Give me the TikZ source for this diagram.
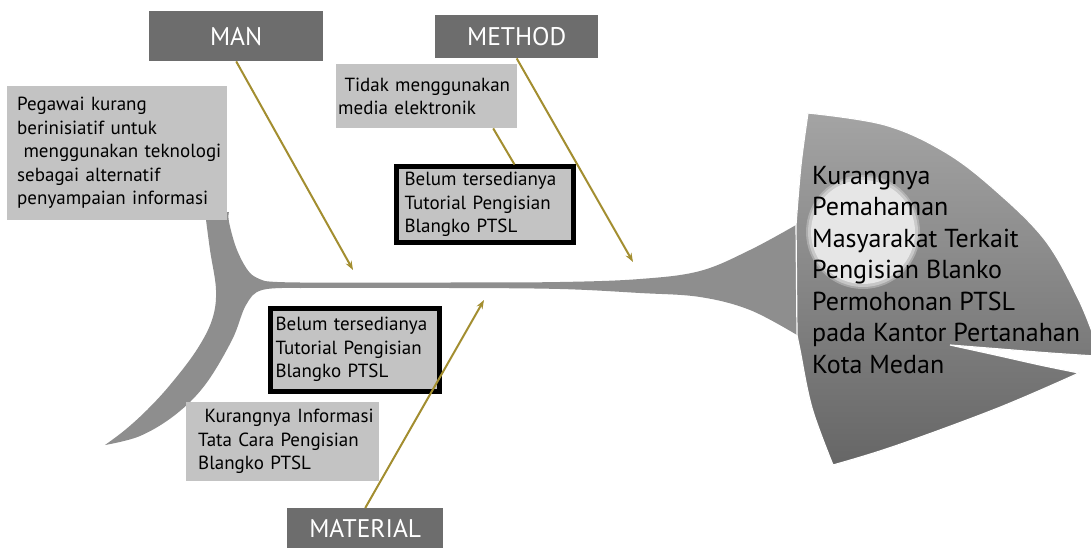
\documentclass[tikz,border=0pt]{standalone}
\usepackage{fontspec}
\setmainfont{PT Sans}
\usetikzlibrary{arrows.meta}
\definecolor{darkbox}{HTML}{6D6D6D}
\definecolor{lightbox}{HTML}{C3C3C3}
\definecolor{arrowc}{HTML}{A38E30}
\definecolor{fishgrey}{HTML}{8E8E8E}
\definecolor{headtop}{HTML}{A4A4A4}
\definecolor{headbot}{HTML}{666666}
\definecolor{eyec}{HTML}{E6E6E6}
\tikzset{
  catbox/.style={fill=darkbox, text=white, inner sep=0pt, anchor=north west,
    font=\fontsize{25.5}{30}\selectfont},
  causebox/.style={fill=lightbox, text=black, anchor=north west, align=left,
    inner ysep=0pt, font=\fontsize{19}{23.5}\selectfont},
  framedbox/.style={causebox, draw=black, line width=5pt},
  arrowline/.style={draw=arrowc, line width=2pt, -{Stealth[length=9pt,width=6.5pt]}},
  plainline/.style={draw=arrowc, line width=2pt},
  headtext/.style={anchor=west, align=left, inner sep=0pt, text=black,
    font=\fontsize{26}{31.5}\selectfont}
}
\begin{document}
\begin{tikzpicture}[x=1pt,y=-1pt]
\useasboundingbox (0,0) rectangle (1091,548);
\fill[white] (0,0) rectangle (1091,548);

% fish body: tail, spine, body and head
\fill[fishgrey]
  plot[smooth, tension=0.6] coordinates {(205,212) (210,250) (216,290) (212,320) (196,351) (170,385) (147,410) (125,430) (105,445)}
  -- plot[smooth, tension=0.6] coordinates {(105,445) (140,436) (175,415) (205,385) (232,340) (246,305) (262,290) (300,288)}
  -- plot[smooth, tension=0.6] coordinates {(300,288) (450,288) (560,289) (640,293) (700,297) (750,310) (797,335)}
  -- plot[smooth, tension=0.6] coordinates {(797,335) (800,350) (812,408) (833,465)}
  -- plot[smooth, tension=0.6] coordinates {(833,465) (895,446) (998,408) (1079,373)}
  -- plot[smooth, tension=0.6] coordinates {(1079,373) (1040,365) (1000,356) (950,345)}
  -- plot[smooth, tension=0.6] coordinates {(950,345) (1000,349) (1050,353) (1095,356)}
  -- (1095,340)
  -- plot[smooth, tension=0.6] coordinates {(1095,340) (1078,298) (1045,240) (995,190) (945,152) (885,125) (808,113)}
  -- plot[smooth, tension=0.6] coordinates {(808,113) (801,165) (796,225)}
  -- plot[smooth, tension=0.6] coordinates {(796,225) (750,250) (700,271) (640,279) (560,282) (450,282.5) (300,282.5) (265,281)}
  -- plot[smooth, tension=0.6] coordinates {(265,281) (250,273) (237,250) (229,222) (229,212)}
  -- cycle;
% head shading
\shade[top color=headtop, bottom color=headbot, draw=white, line width=1.2pt]
  plot[smooth, tension=0.6] coordinates {(797,335) (800,350) (812,408) (833,465)}
  -- plot[smooth, tension=0.6] coordinates {(833,465) (895,446) (998,408) (1079,373)}
  -- plot[smooth, tension=0.6] coordinates {(1079,373) (1040,365) (1000,356) (950,345)}
  -- plot[smooth, tension=0.6] coordinates {(950,345) (1000,349) (1050,353) (1095,356)}
  -- (1095,340)
  -- plot[smooth, tension=0.6] coordinates {(1095,340) (1078,298) (1045,240) (995,190) (945,152) (885,125) (808,113)}
  -- plot[smooth, tension=0.6] coordinates {(808,113) (801,165) (796,225)}
  -- cycle;
% eye with soft edge
\fill[eyec, opacity=0.35] (863,232) circle[radius=57pt];
\fill[eyec, opacity=0.5] (863,232) circle[radius=55pt];
\fill[eyec] (863,232) circle[radius=52pt];

% head text
\node[headtext] (effect) at (812,270) {Kurangnya\\Pemahaman\\Masyarakat Terkait\\Pengisian Blanko\\Permohonan PTSL\\pada Kantor Pertanahan\\Kota Medan};

% category boxes
\node[catbox, minimum width=174pt, minimum height=50pt] (man) at (149,11) {MAN};
\node[catbox, minimum width=163pt, minimum height=43pt] (method) at (435,15) {METHOD};
\node[catbox, minimum width=156pt, minimum height=40pt] (material) at (287,508) {MATERIAL};

% cause boxes
\node[causebox, inner xsep=10pt, text width=200pt, minimum height=134pt] (pegawai) at (7,86)
  {Pegawai kurang\\berinisiatif untuk\\\mbox{\ menggunakan teknologi}\\sebagai alternatif\\\mbox{penyampaian informasi}};
\node[causebox, inner xsep=2pt, text width=177pt, minimum height=64pt] (tidak) at (336,64)
  {\mbox{\ Tidak menggunakan}\\media elektronik};
\node[framedbox, inner xsep=8.5pt, text width=160pt, minimum height=75pt] (belum1) at (393.5,164.5)
  {Belum tersedianya\\Tutorial Pengisian\\Blangko PTSL};
\node[framedbox, inner xsep=5.5pt, text width=158pt, minimum height=83pt] (belum2) at (267.5,305.5)
  {Belum tersedianya\\Tutorial Pengisian\\Blangko PTSL};
\node[causebox, inner xsep=12pt, text width=169pt, minimum height=79pt] (kurang) at (186,402)
  {\mbox{\ Kurangnya Informasi}\\Tata Cara Pengisian\\Blangko PTSL};

% arrow tips
\coordinate (manTip) at (353,270);
\coordinate (methodTip) at (633,262);
\coordinate (matTip) at (484,300);

% connectors
\draw[arrowline] (man.south) -- (manTip);
\draw[arrowline] (method.south) -- (methodTip);
\draw[arrowline] (material.north) -- (matTip);
\draw[plainline] ([xshift=66.5pt]tidak.south) -- ([xshift=30pt]belum1.north);
\end{tikzpicture}
\end{document}
